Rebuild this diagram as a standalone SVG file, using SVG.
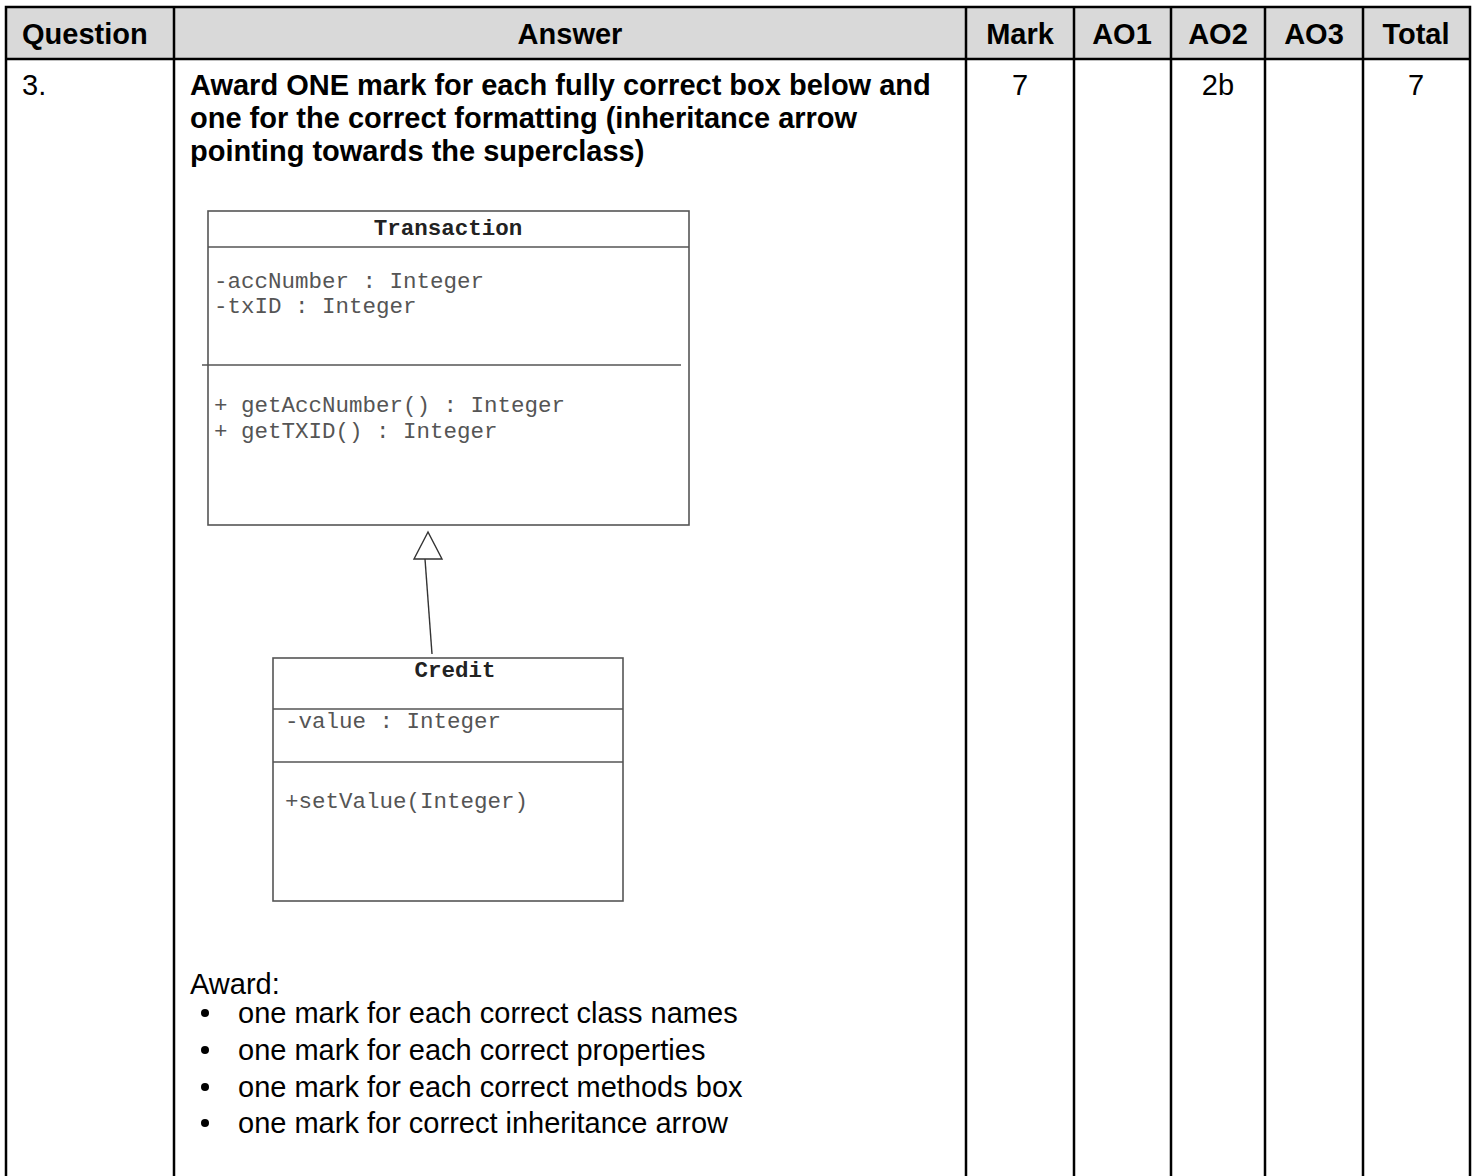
<svg xmlns="http://www.w3.org/2000/svg" width="1476" height="1176" viewBox="0 0 1476 1176">
<style>
.hd{font-family:"Liberation Sans",Arial,sans-serif;font-weight:bold;font-size:29px;fill:#000}
.bd{font-family:"Liberation Sans",Arial,sans-serif;font-size:29px;fill:#000}
.bb{font-family:"Liberation Sans",Arial,sans-serif;font-weight:bold;font-size:29px;fill:#000}
.grid{stroke:#000;stroke-width:2.5;fill:none}
.uml{stroke:#555;stroke-width:1.6;fill:#fff}
.ut{font-family:"Liberation Mono","Courier New",monospace;font-weight:bold;font-size:22.5px;fill:#222}
.um{font-family:"Liberation Mono","Courier New",monospace;font-size:22.5px;fill:#555}
</style>
<rect width="1476" height="1176" fill="#fff"/>
<g id="table">
<rect x="6" y="7" width="1464" height="53" fill="#d9d9d9"/>
<rect class="grid" x="6" y="7" width="1464" height="1172"/>
<line class="grid" x1="6" y1="59" x2="1470" y2="59"/>
<line class="grid" x1="174" y1="7" x2="174" y2="1176"/>
<line class="grid" x1="966" y1="7" x2="966" y2="1176"/>
<line class="grid" x1="1074" y1="7" x2="1074" y2="1176"/>
<line class="grid" x1="1171" y1="7" x2="1171" y2="1176"/>
<line class="grid" x1="1265" y1="7" x2="1265" y2="1176"/>
<line class="grid" x1="1363" y1="7" x2="1363" y2="1176"/>
<text class="hd" x="22" y="44">Question</text>
<text class="hd" x="570" y="44" text-anchor="middle">Answer</text>
<text class="hd" x="1020" y="44" text-anchor="middle">Mark</text>
<text class="hd" x="1122" y="44" text-anchor="middle">AO1</text>
<text class="hd" x="1218" y="44" text-anchor="middle">AO2</text>
<text class="hd" x="1314" y="44" text-anchor="middle">AO3</text>
<text class="hd" x="1416" y="44" text-anchor="middle">Total</text>
<text class="bd" x="22" y="95">3.</text>
<text class="bd" x="1020" y="95" text-anchor="middle">7</text>
<text class="bd" x="1218" y="95" text-anchor="middle">2b</text>
<text class="bd" x="1416" y="95" text-anchor="middle">7</text>
<text class="bb" x="190" y="95">Award ONE mark for each fully correct box below and</text>
<text class="bb" x="190" y="128">one for the correct formatting (inheritance arrow</text>
<text class="bb" x="190" y="161">pointing towards the superclass)</text>
<text class="bd" x="190" y="994">Award:</text>
<g class="bd">
<circle cx="205" cy="1013" r="4"/>
<circle cx="205" cy="1050" r="4"/>
<circle cx="205" cy="1087" r="4"/>
<circle cx="205" cy="1123" r="4"/>
</g>
<text class="bd" x="238" y="1023">one mark for each correct class names</text>
<text class="bd" x="238" y="1060">one mark for each correct properties</text>
<text class="bd" x="238" y="1097">one mark for each correct methods box</text>
<text class="bd" x="238" y="1133">one mark for correct inheritance arrow</text>
</g>
<g id="transaction">
<rect class="uml" x="208" y="211" width="481" height="314"/>
<line class="uml" x1="208" y1="247" x2="689" y2="247"/>
<line class="uml" x1="202" y1="365" x2="681" y2="365"/>
<text class="ut" x="448" y="235" text-anchor="middle">Transaction</text>
<text class="um" x="214" y="288">-accNumber : Integer</text>
<text class="um" x="214" y="313">-txID : Integer</text>
<text class="um" x="214" y="412">+ getAccNumber() : Integer</text>
<text class="um" x="214" y="438">+ getTXID() : Integer</text>
</g>
<g id="credit">
<rect class="uml" x="273" y="658" width="350" height="243"/>
<line class="uml" x1="273" y1="709" x2="623" y2="709"/>
<line class="uml" x1="273" y1="762" x2="623" y2="762"/>
<text class="ut" x="455" y="677" text-anchor="middle">Credit</text>
<text class="um" x="285" y="728">-value : Integer</text>
<text class="um" x="285" y="808">+setValue(Integer)</text>
</g>
<g id="connectors">
<line x1="432" y1="654" x2="425" y2="559" stroke="#333" stroke-width="1.4"/>
<polygon points="428,532 414,559 442,559" fill="#fff" stroke="#333" stroke-width="1.4"/>
</g>
</svg>
